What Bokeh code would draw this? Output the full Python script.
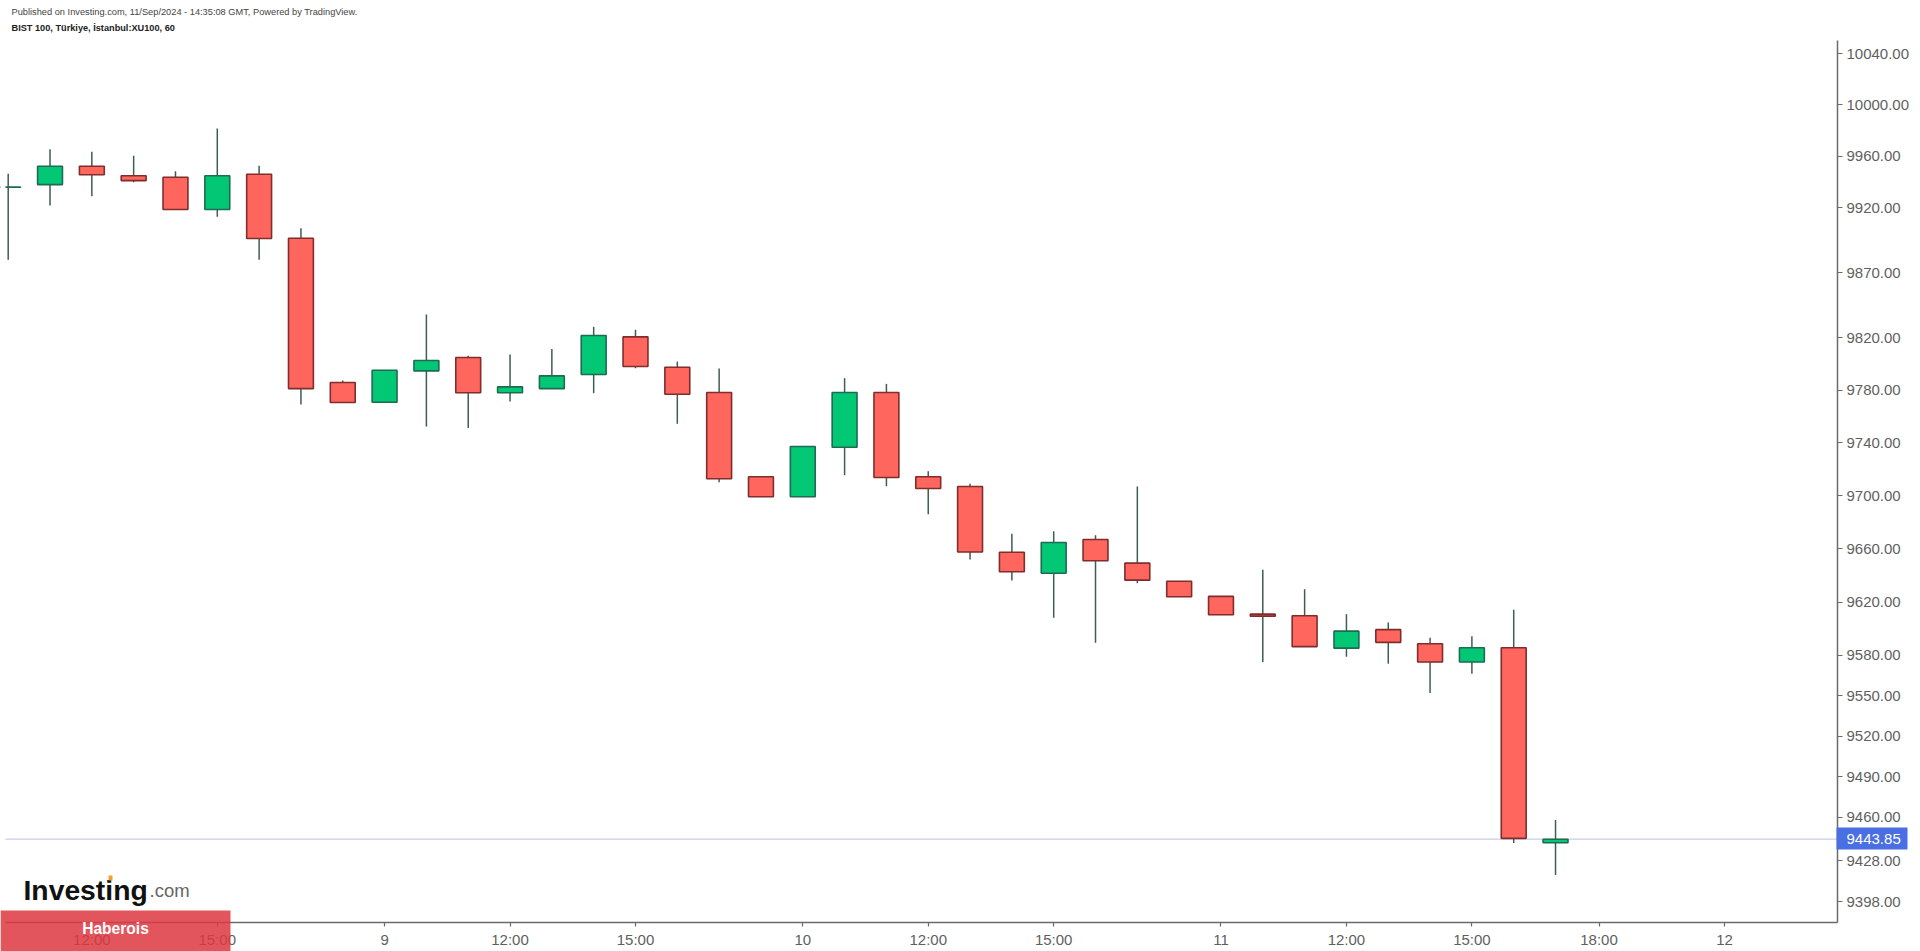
from bokeh.plotting import figure
from bokeh.models import (ColumnDataSource, Range1d, FixedTicker, PrintfTickFormatter,
                          Label, BoxAnnotation)
from bokeh.embed import file_html
from bokeh.resources import INLINE

opens = [9935.9, 9938.0, 9952.2, 9944.8, 9943.7, 9918.7, 9946.0, 9896.5, 9785.9, 9770.9,
         9794.8, 9805.0, 9778.1, 9781.3, 9792.0, 9820.8, 9797.6, 9778.3, 9714.3, 9699.2,
         9736.7, 9778.3, 9714.3, 9707.0, 9657.4, 9641.6, 9667.0, 9649.2, 9635.6, 9624.2,
         9610.9, 9609.7, 9585.5, 9599.3, 9588.8, 9575.1, 9585.8, 9441.3]
highs = [9946.3, 9965.4, 9963.4, 9960.3, 9948.3, 9981.5, 9952.5, 9904.3, 9787.4, 9795.3,
         9837.9, 9806.3, 9807.3, 9811.6, 9828.5, 9826.2, 9801.9, 9796.6, 9714.3, 9737.3,
         9789.2, 9784.9, 9718.5, 9709.0, 9671.3, 9673.2, 9670.2, 9707.0, 9635.6, 9624.2,
         9644.2, 9629.6, 9610.9, 9604.7, 9593.3, 9594.3, 9614.2, 9458.0]
lows = [9879.9, 9921.8, 9929.0, 9939.8, 9918.7, 9913.1, 9879.9, 9769.2, 9770.7, 9770.9,
        9752.4, 9751.4, 9771.4, 9781.3, 9777.8, 9796.8, 9754.5, 9710.2, 9699.2, 9699.2,
        9715.5, 9707.2, 9686.0, 9651.9, 9636.2, 9608.2, 9589.5, 9634.1, 9624.0, 9610.5,
        9575.1, 9586.6, 9579.1, 9573.9, 9552.0, 9566.4, 9441.1, 9417.5]
closes = [9936.0, 9952.2, 9945.6, 9941.1, 9918.7, 9944.8, 9896.3, 9781.3, 9770.7, 9795.3,
          9802.7, 9778.1, 9782.6, 9791.0, 9821.8, 9798.1, 9777.0, 9712.8, 9699.2, 9737.3,
          9778.3, 9713.8, 9705.4, 9657.6, 9642.7, 9664.7, 9651.0, 9636.4, 9624.0, 9610.5,
          9609.4, 9586.6, 9598.2, 9589.8, 9575.1, 9585.8, 9444.5, 9443.85]
bar_index = list(range(len(opens)))

x_tick_positions = [2, 5, 9, 12, 15, 19, 22, 25, 29, 32, 35, 38.04, 41.04]
x_tick_labels = ["12:00", "15:00", "9", "12:00", "15:00", "10", "12:00", "15:00",
                 "11", "12:00", "15:00", "18:00", "12"]
y_ticks = [10040, 10000, 9960, 9920, 9870, 9820, 9780, 9740, 9700, 9660, 9620, 9580,
           9550, 9520, 9490, 9460, 9428, 9398]
last_price = 9443.85

UP, DOWN = "#02C875", "#FF665E"
UP_EDGE, DOWN_EDGE = "#1F6A52", "#7F2D2D"
WICK = "#3D5E52"
AXIS = "#6B6B6B"
TEXT = "#5F5F5F"
FONT = "Liberation Sans"
W, H = 1920, 951

# pane limits in data terms; the figure's frame is the whole canvas so that annotations
# may lie anywhere, and the axes are pinned to the edges of the chart pane
pane_left, pane_right = -0.0646, 43.742
pane_bottom, pane_top = 9382.6, 10050.2

src = ColumnDataSource(dict(
    x=bar_index,
    top=[max(o, c) for o, c in zip(opens, closes)],
    bottom=[min(o, c) for o, c in zip(opens, closes)],
    high=highs,
    low=lows,
    fill=[UP if c >= o else DOWN for o, c in zip(opens, closes)],
    edge=[UP_EDGE if c >= o else DOWN_EDGE for o, c in zip(opens, closes)],
))

p = figure(width=W, height=H, output_backend="svg", toolbar_location=None,
           y_axis_type="log", y_axis_location="right",
           x_range=Range1d(-0.1841, 45.727), y_range=Range1d(9361.6, 10081.55),
           min_border=0, outline_line_color=None,
           background_fill_color="white", border_fill_color="white")
p.grid.visible = False

p.segment([pane_left], [last_price], [pane_right], [last_price], line_color="#C7CDE8", line_width=1.2)

p.segment("x", "high", "x", "low", source=src, line_color=WICK, line_width=1.5)
p.vbar(x="x", width=0.595, top="top", bottom="bottom", source=src,
       fill_color="fill", line_color="edge", line_width=1.6)

ax = p.yaxis[0]
ax.fixed_location = pane_right
ax.bounds = (pane_bottom, pane_top)
ax.ticker = FixedTicker(ticks=y_ticks)
ax.formatter = PrintfTickFormatter(format="%.2f")
ax.axis_line_color = AXIS
ax.axis_line_width = 1.5
ax.major_tick_line_color = AXIS
ax.major_tick_line_width = 1.2
ax.major_tick_in = 0
ax.major_tick_out = 5
ax.minor_tick_line_color = None
ax.major_label_text_font = FONT
ax.major_label_text_font_size = "15px"
ax.major_label_text_color = TEXT
ax.major_label_standoff = 4

xa = p.xaxis[0]
xa.fixed_location = pane_bottom
xa.bounds = (pane_left, pane_right)
xa.ticker = FixedTicker(ticks=x_tick_positions)
xa.major_label_overrides = {k: v for k, v in zip(x_tick_positions, x_tick_labels)}
xa.axis_line_color = AXIS
xa.axis_line_width = 1.5
xa.major_tick_line_color = AXIS
xa.major_tick_line_width = 1.2
xa.major_tick_in = 0
xa.major_tick_out = 4
xa.minor_tick_line_color = None
xa.major_label_text_font = FONT
xa.major_label_text_font_size = "15px"
xa.major_label_text_color = TEXT
xa.major_label_standoff = 4


def text(s, px, py, size, color, style="normal", baseline="middle", align="left"):
    p.add_layout(Label(text=s, x=px, y=H - py, x_units="screen", y_units="screen",
                       text_font=FONT, text_font_size=size, text_color=color,
                       text_font_style=style, text_baseline=baseline, text_align=align,
                       level="overlay"))


def box(x0, x1, y0, y1, color, alpha):
    p.add_layout(BoxAnnotation(left=x0, right=x1, top=H - y0, bottom=H - y1,
                               left_units="screen", right_units="screen",
                               top_units="screen", bottom_units="screen",
                               fill_color=color, fill_alpha=alpha, line_color=None, level="overlay"))


# the first candle is cut by the pane's left edge
box(0, 5, 150, 280, "#FFFFFF", 1)

text("Published on Investing.com, 11/Sep/2024 - 14:35:08 GMT, Powered by TradingView.",
     11, 11, "9.25px", "#444444")
text("BIST 100, Türkiye, İstanbul:XU100, 60", 11, 27, "9.2px", "#222222", "bold")

# price tag
box(1836, 1907, 827, 849, "#4A6FE3", 1)
text(f"{last_price:.2f}", 1846, 838.5, "15px", "#FFFFFF")

# logo
text("Investing", 23, 889, "28.3px", "#111111", "bold", baseline="alphabetic")
text(".com", 149, 890, "18.5px", "#666666", baseline="alphabetic")
box(108, 112, 875, 880, "#F0A030", 1)

# watermark band
box(0, 230, 910, 951, "#DD373F", 0.85)
text("Haberois", 115, 928, "15.6px", "#FFFFFF", "bold", align="center")

open("out.html", "w").write(file_html(p, INLINE))
